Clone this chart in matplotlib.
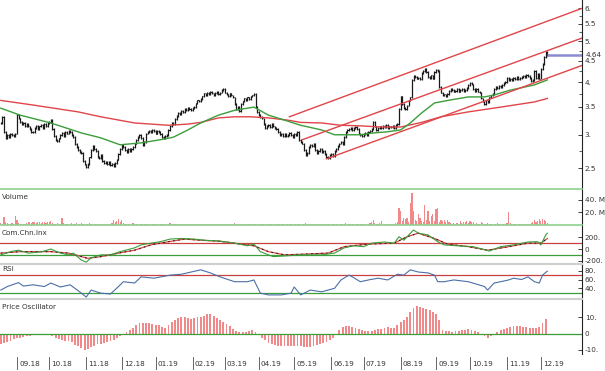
import numpy as np
import pandas as pd
import matplotlib
matplotlib.use("Agg")
import matplotlib.pyplot as plt
from matplotlib.ticker import FixedLocator, FixedFormatter, NullFormatter
from matplotlib.transforms import blended_transform_factory

# ---------------- data ----------------
closes = [
    3.20, 3.30, 3.05, 2.95, 3.00, 2.97, 3.02, 3.00, 2.98, 3.02,
    3.35, 3.28, 3.22, 3.18, 3.20, 3.15, 3.18, 3.14, 3.10, 3.05,
    3.04, 3.12, 3.15, 3.10, 3.14, 3.16, 3.12, 3.18, 3.15, 3.20,
    3.22, 3.26, 3.10, 2.98, 2.92, 2.90, 2.94, 3.00, 3.03, 2.98,
    3.05, 3.02, 3.06, 3.04, 3.00, 2.97, 2.85, 2.80, 2.76, 2.73,
    2.72, 2.60, 2.55, 2.52, 2.56, 2.65, 2.76, 2.82, 2.78, 2.74,
    2.66, 2.64, 2.68, 2.60, 2.57, 2.59, 2.55, 2.58, 2.54, 2.56,
    2.53, 2.57, 2.62, 2.70, 2.78, 2.84, 2.80, 2.76, 2.73, 2.77,
    2.74, 2.78, 2.80, 2.86, 2.92, 2.97, 3.00, 2.95, 2.84, 2.88,
    3.02, 3.05, 3.07, 3.04, 3.08, 3.06, 3.02, 3.06, 3.04, 3.01,
    2.97, 2.95, 2.98, 3.00, 3.08, 3.15, 3.20, 3.18, 3.27, 3.33,
    3.38, 3.36, 3.42, 3.40, 3.45, 3.43, 3.47, 3.46, 3.44, 3.48,
    3.50, 3.56, 3.62, 3.60, 3.65, 3.70, 3.76, 3.72, 3.78, 3.74,
    3.79, 3.76, 3.72, 3.77, 3.80, 3.75, 3.78, 3.83, 3.86, 3.78,
    3.74, 3.70, 3.76, 3.72, 3.68, 3.55, 3.45, 3.50, 3.42, 3.55,
    3.60, 3.66, 3.62, 3.68, 3.64, 3.70, 3.72, 3.75, 3.50, 3.40,
    3.35, 3.30, 3.28, 3.18, 3.12, 3.15, 3.16, 3.13, 3.18, 3.14,
    3.12, 3.10, 3.04, 3.00, 3.02, 2.98, 3.01, 2.98, 3.00, 3.03,
    2.99, 2.97, 3.02, 3.00, 3.04, 2.92, 2.88, 2.86, 2.76, 2.68,
    2.72, 2.80, 2.84, 2.82, 2.86, 2.76, 2.72, 2.74, 2.78, 2.73,
    2.75, 2.70, 2.66, 2.64, 2.68, 2.70, 2.67, 2.74, 2.78, 2.82,
    2.86, 2.88, 2.85, 2.96, 3.05, 3.08, 3.10, 3.12, 3.08, 3.11,
    3.13, 3.09, 3.02, 3.00, 2.98, 3.01, 3.03, 3.00, 3.04, 3.06,
    3.10, 3.22, 3.14, 3.08, 3.12, 3.14, 3.11, 3.15, 3.13, 3.16,
    3.12, 3.14, 3.13, 3.15, 3.12, 3.16, 3.18, 3.45, 3.70, 3.55,
    3.48, 3.45, 3.52, 3.62, 3.68, 4.05, 4.14, 4.12, 4.08, 4.10,
    4.06, 4.20, 4.25, 4.30, 4.22, 4.12, 4.10, 4.15, 4.08, 4.22,
    4.28, 4.25, 3.90, 3.78, 3.72, 3.74, 3.70, 3.75, 3.82, 3.86,
    3.84, 3.80, 3.82, 3.85, 3.80, 3.83, 3.86, 3.81, 3.84, 3.88,
    3.94, 3.98, 3.95, 3.86, 3.82, 3.85, 3.80, 3.78, 3.66, 3.60,
    3.55, 3.62, 3.58, 3.68, 3.72, 3.75, 3.85, 3.90, 3.88, 3.92,
    3.89, 3.94, 3.98, 4.00, 4.10, 4.05, 4.08, 4.04, 4.10, 4.07,
    4.12, 4.06, 4.09, 4.11, 4.14, 4.12, 4.16, 4.13, 4.10, 4.03,
    4.05, 4.25, 4.10, 4.18, 4.08, 4.30, 4.42, 4.60, 4.72, 4.64,
]

volume_m = [
    3, 2, 13, 4, 3, 2, 2, 3, 2, 14,
    8, 3, 2, 2, 1.5, 2, 3, 5, 4, 3,
    5, 4, 3, 5, 4, 3, 4, 5, 3, 4,
    5, 6, 3, 2, 2, 3, 2, 2, 11, 3,
    2, 2, 1.5, 2, 3, 2, 2, 3, 2, 2,
    3, 2, 1.5, 2, 2, 3, 2, 2, 1.5, 2,
    2, 1.5, 2, 2, 1.5, 2, 2, 1.5, 2, 3,
    8, 4, 6, 9, 5, 8, 3, 2, 2, 1.5,
    2, 2, 3, 2, 2, 1.5, 2, 2, 1.5, 2,
    2, 1.5, 2, 1.5, 2, 2, 1.5, 2, 1.5, 2,
    1.5, 2, 1.5, 2, 2, 3, 2, 1.5, 2, 2,
    2, 1.5, 2, 2, 1.5, 2, 1.5, 2, 2, 1.5,
    2, 1.5, 2, 2, 1.5, 2, 2, 1.5, 2, 1.5,
    2, 1.5, 1.5, 2, 1.5, 2, 1.5, 1.5, 2, 1.5,
    1.5, 2, 1.5, 1.5, 2, 3, 2, 1.5, 2, 2,
    1.5, 1.5, 2, 1.5, 1.5, 2, 1.5, 1.5, 2, 2,
    2, 1.5, 2, 1.5, 1.5, 2, 1.5, 1.5, 2, 1.5,
    1.5, 1.5, 2, 1.5, 1.5, 1.5, 2, 1.5, 1.5, 1.5,
    1.5, 2, 1.5, 1.5, 2, 1.5, 2, 1.5, 2, 3,
    2, 1.5, 1.5, 2, 1.5, 1.5, 1.5, 2, 1.5, 1.5,
    1.5, 1.5, 2, 1.5, 1.5, 1.5, 2, 1.5, 1.5, 2,
    1.5, 1.5, 2, 2, 3, 2, 1.5, 1.5, 2, 1.5,
    1.5, 1.5, 2, 1.5, 1.5, 2, 1.5, 1.5, 2, 3,
    4, 8, 3, 2, 2, 3, 6, 2, 2, 1.5,
    2, 2, 1.5, 2, 2, 3, 4, 27, 23, 6,
    11, 9, 11, 5, 35, 51, 23, 8, 6, 17,
    11, 6, 5, 32, 8, 23, 6, 14, 17, 6,
    25, 27, 5, 8, 6, 8, 5, 8, 4, 3,
    2, 3, 2, 3, 2, 6, 3, 5, 4, 6,
    3, 6, 4, 5, 2, 3, 2, 2, 4, 3,
    2, 2, 3, 2, 2, 1.5, 2, 2, 3, 2,
    2, 2, 1.5, 2, 3, 20, 3, 2, 1.5, 2,
    1.5, 2, 2, 1.5, 2, 2, 1.5, 2, 2, 3,
    4, 8, 5, 6, 10, 7, 9, 8, 6, 3,
]

# moving averages (sampled vertices)
ma_short_days = [0, 12, 31, 50, 62, 74, 87, 99, 107, 116, 124, 135, 145, 157, 166, 176,
                 186, 199, 207, 215, 223, 231, 240, 248, 254, 261, 269, 279, 290, 300,
                 306, 316, 331, 339]
ma_short_vals = [3.47, 3.34, 3.20, 3.03, 2.95, 2.84, 2.87, 2.92, 2.96, 3.08, 3.20, 3.34,
                 3.43, 3.49, 3.34, 3.25, 3.16, 3.08, 3.00, 3.00, 3.00, 3.03, 3.05, 3.08,
                 3.20, 3.38, 3.57, 3.63, 3.69, 3.69, 3.73, 3.83, 3.94, 4.05]
ma_long_days = [0, 20, 48, 62, 83, 104, 116, 124, 135, 145, 155, 166, 178, 186, 199, 211,
                223, 236, 248, 261, 273, 290, 310, 331, 339]
ma_long_vals = [3.62, 3.53, 3.40, 3.31, 3.20, 3.16, 3.18, 3.21, 3.29, 3.31, 3.31, 3.29,
                3.25, 3.21, 3.20, 3.16, 3.15, 3.13, 3.13, 3.21, 3.31, 3.40, 3.49, 3.59, 3.66]

# trend channel (start / end points)
channel_days = [[179, 361], [187, 361], [202, 361]]
channel_vals = [[3.31, 6.00], [2.92, 5.10], [2.63, 4.39]]
last_price = 4.64

# Commodity Channel Index
cci_days = [0, 6, 11, 17, 25, 31, 37, 42, 45, 50, 53, 56, 62, 68, 74, 83, 87, 93, 99, 105,
            112, 120, 126, 136, 145, 153, 157, 161, 166, 169, 178, 186, 199, 207, 213, 219,
            225, 230, 238, 244, 247, 250, 256, 259, 265, 271, 275, 283, 293, 303, 310, 318,
            327, 333, 335, 338, 339]
cci_vals = [-100, -45, -20, -70, -50, 0, -70, -100, -70, -190, -225, -150, -100, -100, -45,
            20, 70, 100, 125, 170, 180, 170, 150, 135, 100, 55, 85, -45, -100, -130, -115,
            -100, -100, -70, 20, 55, 40, 100, 120, 100, 210, 150, 325, 270, 240, 125, 70,
            55, 40, -35, 40, 70, 120, 125, 70, 240, 270]
cci_sig_days = [0, 12, 31, 42, 54, 62, 73, 83, 93, 104, 114, 124, 135, 145, 157, 166, 176,
                186, 203, 213, 228, 244, 252, 259, 269, 277, 290, 302, 315, 327, 335, 339]
cci_sig_vals = [-70, -45, -45, -70, -160, -130, -70, -20, 70, 125, 170, 150, 135, 100, 55,
                -45, -100, -90, -70, 40, 85, 100, 210, 270, 180, 85, 40, -20, 40, 100, 100, 180]

# RSI
rsi_days = [0, 4, 11, 14, 20, 27, 31, 37, 43, 50, 53, 56, 62, 68, 73, 76, 83, 87, 95, 105,
            112, 124, 130, 136, 145, 153, 157, 161, 166, 174, 180, 182, 186, 192, 199, 207,
            211, 216, 219, 223, 228, 234, 240, 246, 250, 254, 259, 265, 269, 271, 275, 281,
            290, 300, 302, 306, 310, 315, 318, 323, 327, 331, 334, 336, 339]
rsi_vals = [36, 44, 53, 45, 48, 44, 52, 43, 48, 29, 20, 36, 29, 27, 44, 55, 52, 66, 63, 70,
            72, 82, 75, 66, 55, 55, 59, 29, 25, 25, 29, 43, 25, 36, 32, 40, 59, 70, 64, 55,
            59, 63, 59, 72, 70, 82, 77, 75, 70, 55, 55, 59, 55, 44, 36, 52, 55, 59, 63, 60,
            66, 55, 52, 70, 79]

# Price oscillator (every second session)
po_days = list(range(0, 340, 2))
po_vals = [
    -6.5, -6.0, -5.5, -4.5, -3.5, -3.0, -2.5, -2.0, -1.6, -1.4,
    -1.0, -0.9, -0.8, -0.6, -0.6, -1.0, -1.3, -2.5, -3.6, -4.0,
    -4.3, -4.6, -5.5, -6.8, -7.6, -9.0, -10.4, -9.5, -8.5, -7.5,
    -6.6, -6.2, -5.8, -5.5, -4.8, -3.8, -2.8, -1.5, -0.2, 1.0,
    2.2, 3.5, 5.5, 6.3, 6.5, 6.4, 6.2, 5.8, 5.5, 5.0,
    3.8, 3.6, 5.5, 7.2, 8.2, 9.5, 10.2, 10.0, 9.5, 9.2,
    9.6, 10.0, 10.2, 11.0, 12.0, 11.8, 10.8, 9.5, 8.5, 7.2,
    5.8, 4.6, 2.8, 1.8, 1.2, 0.8, 1.0, 1.8, 2.2, 1.0,
    -0.8, -2.8, -4.2, -5.6, -6.4, -7.0, -7.5, -7.6, -7.6, -7.5,
    -7.6, -7.5, -7.4, -7.5, -8.0, -8.5, -8.2, -7.6, -7.0, -6.6,
    -6.0, -5.0, -4.0, -2.8, -1.0, 2.0, 4.0, 4.4, 4.7, 4.2,
    3.4, 2.8, 2.0, 1.6, 1.4, 1.8, 2.3, 2.7, 3.0, 3.4,
    3.7, 3.5, 3.3, 5.0, 7.0, 8.5, 10.0, 13.0, 15.5, 17.0,
    16.5, 15.5, 15.0, 14.2, 13.2, 12.0, 8.0, 2.2, 1.6, 1.4,
    1.2, 1.3, 1.4, 2.0, 2.4, 2.5, 2.4, 1.8, 0.8, -0.5,
    -1.8, -2.5, -1.8, -1.0, 0.8, 2.3, 3.0, 3.6, 4.2, 4.5,
    4.7, 4.6, 4.2, 3.8, 3.6, 3.3, 3.6, 4.2, 6.5, 9.2,
]

price_ticks = [2.5, 3, 3.5, 4, 4.5, 5, 5.5, 6]
price_tick_labels = ["2.5", "3.", "3.5", "4.", "4.5", "5.", "5.5", "6."]

# ---------------- figure ----------------
W, H = 605, 371
fig = plt.figure(figsize=(W / 100, H / 100), dpi=100)
plt.rcParams["font.family"] = ["DejaVu Sans"]
FS = 5.2
TXT = "#333333"
RED = "#e0454a"
GREEN = "#3a9e3a"
PALE_GREEN = "#8fd08f"
SEP = "#cfcfcf"
BARRED = "#f08a8a"

n = len(closes)
idx = np.arange(n)
dates = pd.bdate_range("2018-08-20", periods=n)
XMIN, XMAX = -0.5, 360.5


def panel(top, bottom):
    ax = fig.add_axes([0, 1 - bottom / H, 582 / W, (bottom - top) / H])
    ax.set_xlim(XMIN, XMAX)
    for s in ("top", "left"):
        ax.spines[s].set_visible(False)
    ax.spines["right"].set_color("#222222")
    ax.spines["right"].set_linewidth(0.8)
    ax.yaxis.tick_right()
    ax.tick_params(axis="y", direction="in", length=3, width=0.6, labelsize=FS,
                   pad=2, colors="#222222", labelcolor=TXT)
    ax.tick_params(axis="x", bottom=False, labelbottom=False)
    ax.patch.set_alpha(0)
    return ax


# ---- price panel ----
ax = panel(0, 189)
ax.set_yscale("log")
ax.set_ylim(2.23, 6.27)
ax.spines["bottom"].set_color(PALE_GREEN)
ax.spines["bottom"].set_linewidth(1.2)
c = np.array(closes)
o = np.concatenate([[c[0]], c[:-1]])
ax.vlines(idx, np.minimum(o, c) * 0.995, np.maximum(o, c) * 1.005, color="#1a1a1a", lw=0.9)
ax.hlines(c, idx, idx + 0.7, color="#1a1a1a", lw=0.8)
ax.plot(ma_long_days, ma_long_vals, color=RED, lw=1.0)
ax.plot(ma_short_days, ma_short_vals, color=GREEN, lw=1.0)
for dd, vv in zip(channel_days, channel_vals):
    ax.plot(dd, vv, color=RED, lw=1.0)
ax.hlines(last_price, n - 1, XMAX, color="#8a8ad2", lw=1.8)
ax.yaxis.set_major_locator(FixedLocator(price_ticks))
ax.yaxis.set_major_formatter(FixedFormatter(price_tick_labels))
ax.yaxis.set_minor_locator(FixedLocator([2.75, 3.25, 3.75, 4.25, 4.75, 5.25, 5.75]))
ax.yaxis.set_minor_formatter(NullFormatter())
ax.tick_params(axis="y", which="minor", direction="in", length=2, width=0.5, colors="#222222")
ax.annotate(f"{last_price:.2f}", xy=(1.0, last_price),
            xycoords=blended_transform_factory(ax.transAxes, ax.transData),
            xytext=(2.5, 0), textcoords="offset points", va="center", ha="left",
            fontsize=FS, color=TXT, annotation_clip=False)

# ---- volume ----
axv = panel(190, 225)
axv.set_ylim(0, 55.6)
axv.bar(idx, volume_m, width=0.75, color=BARRED, linewidth=0)
axv.spines["bottom"].set_color(PALE_GREEN)
axv.spines["bottom"].set_linewidth(1.2)
axv.set_yticks([20, 40])
axv.set_yticklabels(["20. M", "40. M"])

# ---- CCI ----
axc = panel(226, 264)
axc.set_ylim(-256, 393)
axc.axhline(100, color="#c84040", lw=0.9)
axc.axhline(-100, color=GREEN, lw=0.9)
axc.plot(cci_sig_days, cci_sig_vals, color=RED, lw=0.9)
axc.plot(cci_sig_days, cci_sig_vals, color="#222222", lw=0.8, ls=(0, (1.5, 3)))
axc.plot(cci_days, cci_vals, color=GREEN, lw=0.8)
axc.spines["bottom"].set_color(SEP)
axc.spines["bottom"].set_linewidth(1.5)
axc.set_yticks([-200, 0, 200])
axc.set_yticklabels(["-200.", "0", "200."])

# ---- RSI ----
axr = panel(265, 299)
axr.set_ylim(15.7, 93)
axr.axhline(70, color="#c84040", lw=0.9)
axr.axhline(30, color=GREEN, lw=0.9)
axr.plot(rsi_days, rsi_vals, color="#4a6fa8", lw=0.8)
axr.spines["bottom"].set_color(SEP)
axr.spines["bottom"].set_linewidth(1.5)
axr.set_yticks([40, 60, 80])
axr.set_yticklabels(["40.", "60.", "80."])

# ---- Price oscillator ----
axp = panel(300, 354)
axp.set_ylim(-12.6, 20.6)
axp.bar(po_days, po_vals, width=1.15, color=BARRED, linewidth=0)
axp.axhline(0, color=GREEN, lw=0.9)
axp.spines["bottom"].set_visible(False)
axp.set_yticks([-10, 0, 10])
axp.set_yticklabels(["-10.", "0", "10."])

# ---- panel titles ----
for label, ypx in [("Volume", 197), ("Com.Chn.Inx", 233), ("RSI", 269), ("Price Oscillator", 307)]:
    fig.text(2 / W, 1 - ypx / H, label, fontsize=FS, color=TXT, va="center", ha="left")

# ---- month axis ----
month_pos = [i for i in range(1, n) if dates[i].month != dates[i - 1].month]
trans = blended_transform_factory(axp.transData, fig.transFigure)
for i in month_pos:
    axp.plot([i, i], [1 - 357 / H, 1 - 369 / H], color="#666666", lw=0.7,
             transform=trans, clip_on=False)
    axp.text(i + 1.3, 1 - 364 / H, dates[i].strftime("%m.%y"), transform=trans,
             fontsize=FS, color=TXT, va="center", ha="left")

fig.savefig("out.png", dpi=100)
